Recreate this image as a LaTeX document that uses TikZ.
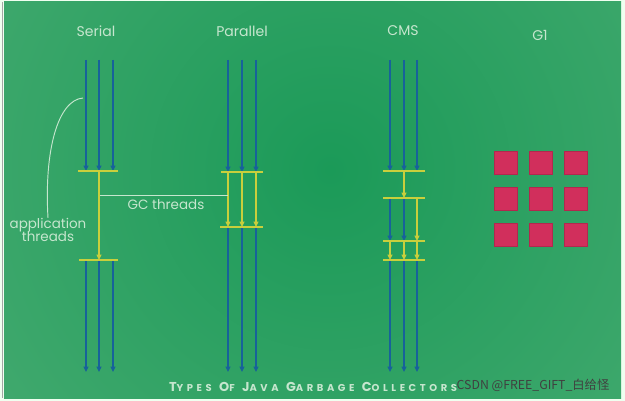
\documentclass[tikz,border=0pt]{standalone}
\usepackage{fontspec}
\setmainfont{Poppins}
\newfontfamily\capsfont{Poppins}[LetterSpace=36]
\newfontfamily\cjk{Noto Sans CJK SC}
\usepackage{tikz}
\usetikzlibrary{positioning,arrows.meta}
\definecolor{bgDark}{HTML}{1B9A58}
\definecolor{bgLight}{HTML}{5DB47E}
\definecolor{appBlue}{HTML}{17629A}
\definecolor{gcYellow}{HTML}{C9CF3C}
\definecolor{labelPale}{HTML}{C6E6CE}
\definecolor{regionRed}{HTML}{D12F5C}
\newcommand\capword[2]{#1{\fontsize{8.5}{9}\selectfont #2}}

\begin{document}
\begin{tikzpicture}[x=0.03cm, y=-0.03cm,
  app/.style={draw=appBlue, line width=1.4pt, -{Triangle[length=4.5pt,width=4pt]}},
  gc/.style={draw=gcYellow, line width=1.1pt, -{Triangle[length=4.5pt,width=4pt,fill=yellow!85!green]}},
  bar/.style={draw=gcYellow, line width=1.1pt},
  hint/.style={draw=labelPale, line width=0.8pt},
  title/.style={font=\fontsize{12}{14}\selectfont, text=labelPale},
  note/.style={font=\fontsize{11.5}{12.5}\selectfont, text=labelPale, align=center, inner sep=0pt},
  region/.style={fill=regionRed, draw=regionRed!85!black, minimum size=0.69cm, inner sep=0pt},
]
\useasboundingbox (0,0) rectangle (625,401);
\fill[white!94!green] (0,0) rectangle (625,401);
\begin{scope}
  \clip (4,2) rectangle (621,398);
  \shade[inner color=bgDark, outer color=bgLight] (330,170) circle (720);
\end{scope}
\draw[gray!70, line width=0.8pt] (2.5,2) -- (2.5,398);

\node[title] (tSerial) at (96,31) {Serial};
\node[title] (tParallel) at (242,31) {Parallel};
\node[title] (tCms) at (403,31) {CMS};
\node[title] (tGone) at (540,35) {G1};

\foreach \n/\x in {1/86,2/99,3/113} {
  \coordinate (se\n-a) at (\x,60);
  \coordinate (se\n-b) at (\x,171);
  \coordinate (se\n-c) at (\x,260);
  \coordinate (se\n-d) at (\x,372);
  \draw[app] (se\n-a) -- (se\n-b);
  \draw[app] (se\n-c) -- (se\n-d);
}
\draw[gc] (se2-b) -- (se2-c);

\foreach \n/\x in {1/228,2/242,3/256} {
  \coordinate (pa\n-a) at (\x,60);
  \coordinate (pa\n-b) at (\x,172);
  \coordinate (pa\n-c) at (\x,227);
  \coordinate (pa\n-d) at (\x,372);
  \draw[app] (pa\n-a) -- (pa\n-b);
  \draw[gc] (pa\n-b) -- (pa\n-c);
  \draw[app] (pa\n-c) -- (pa\n-d);
}

\foreach \n/\x in {1/390,2/404,3/417} {
  \coordinate (cm\n-a) at (\x,60);
  \coordinate (cm\n-b) at (\x,171);
  \coordinate (cm\n-c) at (\x,198);
  \coordinate (cm\n-d) at (\x,241);
  \coordinate (cm\n-e) at (\x,260);
  \coordinate (cm\n-f) at (\x,372);
  \draw[app] (cm\n-a) -- (cm\n-b);
  \draw[gc] (cm\n-d) -- (cm\n-e);
  \draw[app] (cm\n-e) -- (cm\n-f);
}
\draw[gc] (cm2-b) -- (cm2-c);
\draw[app] (cm1-c) -- (cm1-d);
\draw[app] (cm2-c) -- (cm2-d);
\draw[gc] (cm3-c) -- (cm3-d);

\foreach \b/\xl/\xr/\y in {seA/78/118/171, seB/79/118/260, paA/221/263/172, paB/220/263/227,
  cmA/383/425/171, cmB/383/425/198, cmC/383/425/241, cmD/383/425/260} {
  \coordinate (\b-w) at (\xl,\y);
  \coordinate (\b-e) at (\xr,\y);
  \draw[bar] (\b-w) -- (\b-e);
}

\coordinate (appHook) at (83,98);
\node[note] (appLbl) at (48,230) {application\\[-1pt]threads};
\draw[hint] (appHook) .. controls (58,100) and (44,150) .. (appLbl.north);

\coordinate (gcL) at (100,195);
\coordinate (gcR) at (228,195);
\draw[hint] (gcL) -- (gcR);
\node[note] (gcLbl) at (166,205) {GC threads};

\foreach \r in {0,1,2} {
  \foreach \c in {0,1,2} {
    \node[region] (reg\r\c) at (505.5+35*\c,162.5+36*\r) {};
  }
}

\node[text=labelPale, font=\capsfont\bfseries\fontsize{11}{12}\selectfont] (caption) at (313,387)
  {\capword{T}{YPES} \capword{O}{F} \capword{J}{AVA} \capword{G}{ARBAGE} \capword{C}{OLLECTORS}};
\node[text=black!75, font=\cjk\fontsize{10.5}{12}\selectfont, inner sep=0pt] (mark) at (533,385)
  {CSDN @FREE\_GIFT\_白给怪};
\end{tikzpicture}
\end{document}
